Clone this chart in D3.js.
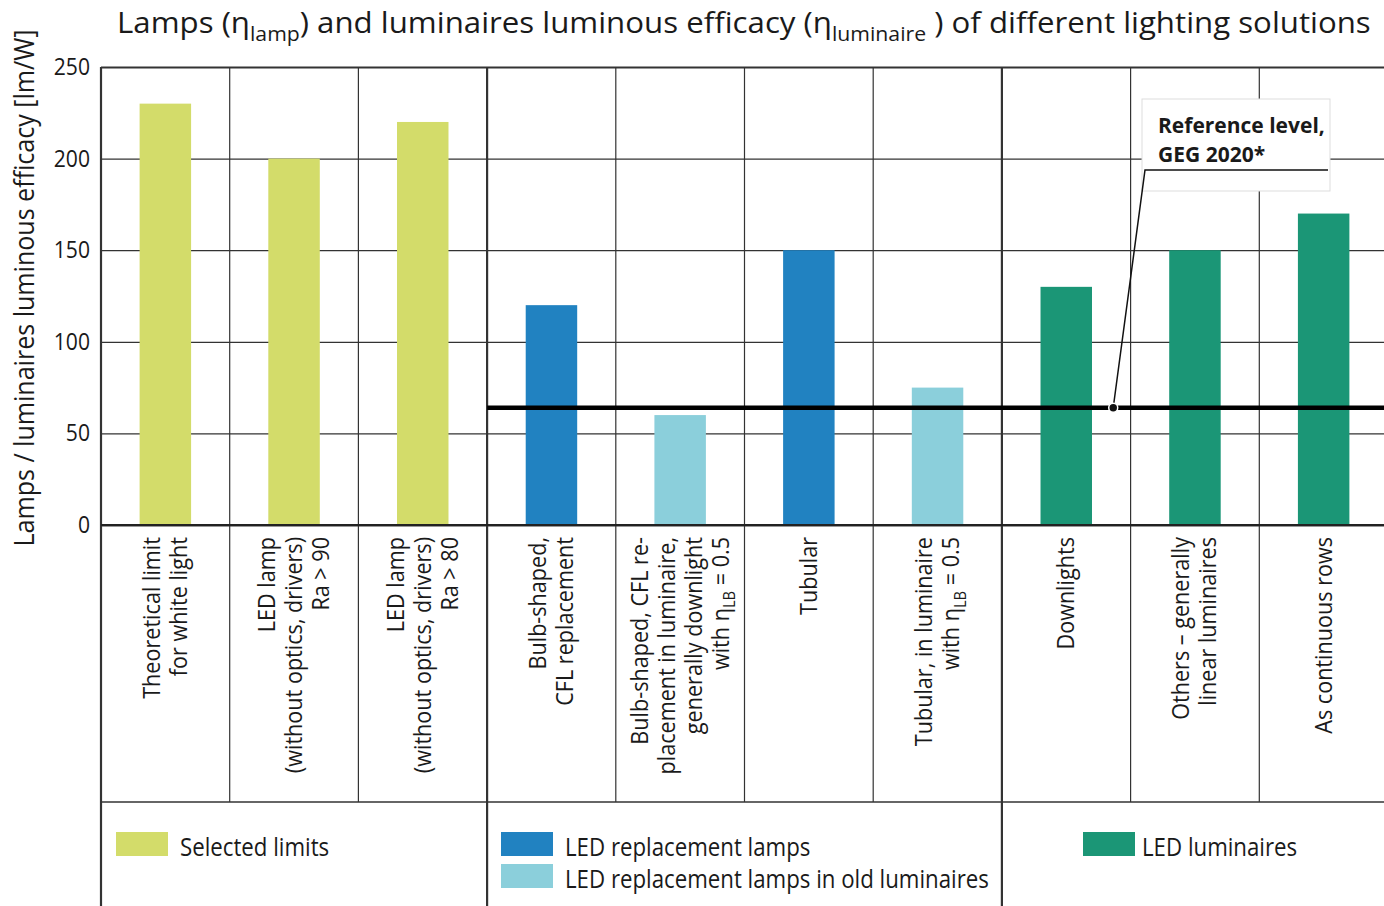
<!DOCTYPE html>
<html>
<head>
<meta charset="utf-8">
<script src="https://cdn.jsdelivr.net/npm/d3@7/dist/d3.min.js"></script>
<style>
  body { margin: 0; background: #fff; }
  svg { display: block; font-family: 'Open Sans', 'Noto Sans', sans-serif; }
</style>
</head>
<body>
<div id="chart"></div>
<script>
// categories, one bar each
const categories = ['theoretical', 'ledRa90', 'ledRa80', 'bulb', 'bulbOld', 'tubular', 'tubularOld', 'downlights', 'others', 'rows']
const values = [230, 200, 220, 120, 60, 150, 75, 130, 150, 170]
const series = ['limits', 'limits', 'limits', 'lamps', 'lampsOld', 'lamps', 'lampsOld', 'luminaires', 'luminaires', 'luminaires']
// _{..} marks a subscript
const labels = [
  ['Theoretical limit', 'for white light'],
  ['LED lamp', '(without optics, drivers)', 'Ra > 90'],
  ['LED lamp', '(without optics, drivers)', 'Ra > 80'],
  ['Bulb-shaped,', 'CFL replacement'],
  ['Bulb-shaped, CFL re-', 'placement in luminaire,', 'generally downlight', 'with η_{LB} = 0.5'],
  ['Tubular'],
  ['Tubular, in luminaire', 'with η_{LB} = 0.5'],
  ['Downlights'],
  ['Others – generally', 'linear luminaires'],
  ['As continuous rows'],
]
const yTicks = [0, 50, 100, 150, 200, 250]
const referenceLevel = 64
const referenceText = ['Reference level,', 'GEG 2020*']

const seriesKeys = ['limits', 'lamps', 'lampsOld', 'luminaires']
const seriesColors = ['#d3dc6a', '#2182c1', '#8bcfdb', '#1b9676']
const seriesNames = ['Selected limits', 'LED replacement lamps', 'LED replacement lamps in old luminaires', 'LED luminaires']
// legend block each series goes into (one block per group of columns)
const legendBlock = [0, 1, 1, 2]

const title = 'Lamps (η_{lamp}) and luminaires luminous efficacy (η_{luminaire} ) of different lighting solutions'
const yTitle = 'Lamps / luminaires luminous efficacy [lm/W]'

const W = 1384
const H = 906
const plotLeft = 101
const plotRight = 1388
const plotTop = 67
const plotBottom = 525
const labelBottom = 802
const k = 0.88 // squeeze the font a bit, source uses a condensed face
const ink = '#1a1a1a'

const color = d3.scaleOrdinal().domain(seriesKeys).range(seriesColors)

const svg = d3.select('#chart').append('svg')
  .attr('width', W)
  .attr('height', H)
  .attr('viewBox', `0 0 ${W} ${H}`)

function rich(t, str, size) {
  const parts = str.split(/(_\{[^}]*\})/).filter((p) => p)
  let down = false
  parts.forEach((p) => {
    if (p.startsWith('_{')) {
      t.append('tspan').attr('font-size', size * 0.68).attr('dy', size * 0.28).text(p.slice(2, -1))
      down = true
    } else {
      const s = t.append('tspan').text(p)
      if (down) s.attr('dy', -size * 0.28)
      down = false
    }
  })
}

function addText(parent, x, y, str, size, opts = {}) {
  const t = parent.append('text')
    .attr('transform', `translate(${x},${y}) rotate(${opts.rotate || 0}) scale(${opts.k || k},1)`)
    .attr('text-anchor', opts.anchor || 'start')
    .attr('font-size', size)
    .attr('font-weight', opts.weight || 400)
    .attr('fill', ink)
  rich(t, str, size)
  return t
}

const x = d3.scaleBand().domain(categories).range([plotLeft, plotRight]).padding(0)
const y = d3.scaleLinear().domain([0, 250]).range([plotBottom, plotTop])

// grid
svg.append('g')
  .attr('class', 'grid')
  .attr('transform', `translate(${plotLeft},0)`)
  .call(d3.axisLeft(y).tickValues(yTicks).tickSize(-(plotRight - plotLeft)).tickFormat(''))
  .call((g) => g.select('.domain').remove())
  .call((g) => g.selectAll('line')
    .attr('stroke', '#333')
    .attr('stroke-width', (d) => (d === 0 || d === 250 ? 2 : 1.2)))

// tick labels
svg.append('g')
  .selectAll('text')
  .data(yTicks)
  .join('text')
  .attr('transform', (d) => `translate(90,${y(d) + 8}) scale(${k},1)`)
  .attr('text-anchor', 'end')
  .attr('font-size', 24)
  .attr('fill', ink)
  .text((d) => d)

// column separators, heavier where a new group starts
const groupOf = (s) => (s.startsWith('lamps') ? 'lamps' : s)
const groupStarts = categories.filter((c, i) => i === 0 || groupOf(series[i]) !== groupOf(series[i - 1]))
svg.append('g')
  .selectAll('line')
  .data(categories)
  .join('line')
  .attr('x1', (d) => x(d))
  .attr('x2', (d) => x(d))
  .attr('y1', plotTop)
  .attr('y2', (d) => (groupStarts.includes(d) ? H : labelBottom))
  .attr('stroke', '#333')
  .attr('stroke-width', (d) => (groupStarts.includes(d) ? 2.2 : 1.2))

svg.append('line')
  .attr('x1', plotLeft).attr('x2', plotRight)
  .attr('y1', labelBottom).attr('y2', labelBottom)
  .attr('stroke', '#333')
  .attr('stroke-width', 1.5)

// bars
const barW = x.bandwidth() * 0.4
svg.append('g')
  .selectAll('rect')
  .data(categories)
  .join('rect')
  .attr('x', (d) => x(d) + (x.bandwidth() - barW) / 2)
  .attr('y', (d, i) => y(values[i]))
  .attr('width', barW)
  .attr('height', (d, i) => y(0) - y(values[i]))
  .attr('fill', (d, i) => color(series[i]))

// axis line over the bars
svg.append('line')
  .attr('x1', plotLeft).attr('x2', plotRight)
  .attr('y1', y(0)).attr('y2', y(0))
  .attr('stroke', '#222')
  .attr('stroke-width', 2)

// category labels, rotated
const lineGap = 27
categories.forEach((c, i) => {
  const g = svg.append('g')
    .attr('transform', `translate(${x(c) + x.bandwidth() / 2},537) rotate(-90)`)
  const n = labels[i].length
  labels[i].forEach((line, j) => {
    addText(g, 0, (j - (n - 1) / 2) * lineGap + 8, line, 24, { anchor: 'end', k: 0.9 })
  })
})

// reference level
const refStart = x(categories[series.indexOf('lamps')])
svg.append('line')
  .attr('x1', refStart).attr('x2', plotRight)
  .attr('y1', y(referenceLevel)).attr('y2', y(referenceLevel))
  .attr('stroke', '#000')
  .attr('stroke-width', 4.5)

const dotX = x('downlights') + x.bandwidth() * 0.865
const note = svg.append('g')
note.append('rect')
  .attr('x', 1142).attr('y', 99)
  .attr('width', 188).attr('height', 92)
  .attr('fill', '#fff')
  .attr('stroke', '#ddd')
  .attr('stroke-width', 1)
note.append('path')
  .attr('d', d3.line()([[dotX, y(referenceLevel)], [1145, 170], [1328, 170]]))
  .attr('fill', 'none')
  .attr('stroke', '#111')
  .attr('stroke-width', 1.5)
note.append('circle')
  .attr('cx', dotX).attr('cy', y(referenceLevel))
  .attr('r', 4.5)
  .attr('fill', '#111')
  .attr('stroke', '#fff')
  .attr('stroke-width', 1.5)
referenceText.forEach((t, i) => {
  addText(note, 1158, 133 + i * 29, t, 21, { weight: 700, k: 1 })
})

// titles
addText(svg, 117, 33, title, 29, { k: 1.077 })
addText(svg, 34, 288, yTitle, 28, { rotate: -90, anchor: 'middle', k: 0.895 })

// legend
const blockX = [116, 501, 1083]
const blockRow = [0, 0, 1, 0]
seriesKeys.forEach((s, i) => {
  const bx = blockX[legendBlock[i]]
  const by = 832 + blockRow[i] * 32
  svg.append('rect')
    .attr('x', bx).attr('y', by)
    .attr('width', 52).attr('height', 24)
    .attr('fill', color(s))
  addText(svg, bx + (legendBlock[i] === 2 ? 59 : 64), by + 24, seriesNames[i], 25, { k: 0.89 })
})
</script>
</body>
</html>
